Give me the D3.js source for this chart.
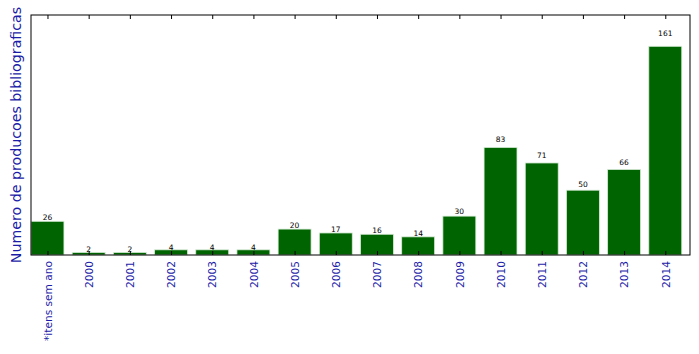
<!DOCTYPE html>
<html><head><meta charset="utf-8">
<script src="https://cdn.jsdelivr.net/npm/d3@7"></script>
<style>body{margin:0;background:#fff}</style>
</head><body>
<script>
const categories = ["*itens sem ano","2000","2001","2002","2003","2004","2005","2006","2007","2008","2009","2010","2011","2012","2013","2014"];
const values = [26,2,2,4,4,4,20,17,16,14,30,83,71,50,66,161];
const yLabel = "Numero de producoes bibliograficas";

const W = 699, H = 354;
const m = {left: 31, right: 9, top: 15, bottom: 99};
const svg = d3.select("body").append("svg").attr("width", W).attr("height", H);
const x = d3.scaleLinear().domain([0, categories.length]).range([m.left, W - m.right]);
const y = d3.scaleLinear().domain([0, d3.max(values) * 1.15]).range([H - m.bottom, m.top]);
const bw = 0.8;
const blue = "#1c1ca8";

svg.append("g").selectAll("rect").data(values).join("rect")
  .attr("x", (d, i) => x(i))
  .attr("width", x(bw) - x(0))
  .attr("y", d => y(d))
  .attr("height", d => y(0) - y(d))
  .attr("fill", "#006400")
  .attr("stroke", "#d8ecd8").attr("stroke-width", 0.8);

svg.append("g").selectAll("text").data(values).join("text")
  .attr("x", (d, i) => x(i + bw / 2))
  .attr("y", d => y(d * 1.05))
  .attr("text-anchor", "middle")
  .attr("font-family", "DejaVu Sans").attr("font-size", 7.5)
  .attr("fill", "#000")
  .text(d => d);

// frame
svg.append("rect").attr("x", m.left).attr("y", m.top)
  .attr("width", W - m.right - m.left).attr("height", H - m.bottom - m.top)
  .attr("fill", "none").attr("stroke", "#000").attr("stroke-width", 1);

const centers = categories.map((c, i) => i + bw / 2);
const bottomAxis = d3.axisBottom(x).tickValues(centers).tickSize(-4).tickPadding(6).tickFormat((d, i) => categories[i]);
const gb = svg.append("g").attr("transform", `translate(0,${H - m.bottom})`).call(bottomAxis);
gb.select(".domain").remove();
gb.selectAll("line").attr("stroke", "#000");
gb.selectAll("text")
  .attr("font-family", "DejaVu Sans").attr("font-size", 10.6).attr("fill", blue)
  .attr("transform", "rotate(-90)")
  .attr("text-anchor", "end")
  .attr("x", -6).attr("y", 0).attr("dy", "0.35em");

const topAxis = d3.axisTop(x).tickValues(centers).tickSize(-4).tickFormat("");
const gt = svg.append("g").attr("transform", `translate(0,${m.top})`).call(topAxis);
gt.select(".domain").remove();
gt.selectAll("line").attr("stroke", "#000");

svg.append("text")
  .attr("transform", `translate(21,${(m.top + H - m.bottom) / 2}) rotate(-90)`)
  .attr("text-anchor", "middle")
  .attr("font-family", "DejaVu Sans").attr("font-size", 14.2).attr("fill", blue)
  .text(yLabel);
</script>
</body></html>
